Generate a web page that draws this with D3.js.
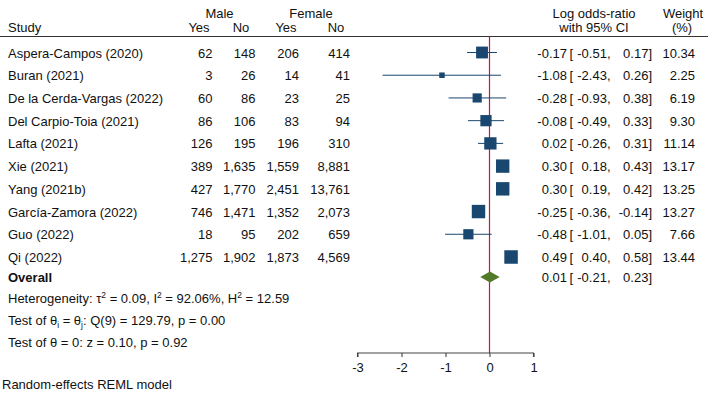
<!DOCTYPE html>
<html><head><meta charset="utf-8">
<script src="https://cdn.jsdelivr.net/npm/d3@7"></script>
<style>
html,body{margin:0;padding:0;background:#fff;}
svg{display:block;font-family:"Liberation Sans",Arial,sans-serif;}
</style></head>
<body>
<script>
const studies = ["Aspera-Campos (2020)","Buran (2021)","De la Cerda-Vargas (2022)","Del Carpio-Toia (2021)","Lafta (2021)","Xie (2021)","Yang (2021b)","García-Zamora (2022)","Guo (2022)","Qi (2022)"];
const maleYes = [62,3,60,86,126,389,427,746,18,1275];
const maleNo = [148,26,86,106,195,1635,1770,1471,95,1902];
const femaleYes = [206,14,23,83,196,1559,2451,1352,202,1873];
const femaleNo = [414,41,25,94,310,8881,13761,2073,659,4569];
const estimate = [-0.17,-1.08,-0.28,-0.08,0.02,0.30,0.30,-0.25,-0.48,0.49];
const lower = [-0.51,-2.43,-0.93,-0.49,-0.26,0.18,0.19,-0.36,-1.01,0.40];
const upper = [0.17,0.26,0.38,0.33,0.31,0.43,0.42,-0.14,0.05,0.58];
const weight = [10.34,2.25,6.19,9.30,11.14,13.17,13.25,13.27,7.66,13.44];
const overall = {est:0.01, lo:-0.21, hi:0.23};
const xTicks = [-3,-2,-1,0,1];

const W=708,H=394;
const svg=d3.select("body").append("svg").attr("width",W).attr("height",H);
const fs=13, txt="#111";
const loc=d3.formatLocale({decimal:".",thousands:",",grouping:[3],currency:["",""],minus:"-"});
const fmtN=loc.format(","), f2=loc.format(".2f"), fD=loc.format("d");
const x=d3.scaleLinear().domain([-3,1]).range([357.5,533.5]);
const y=d3.scaleLinear().domain([0,studies.length-1]).range([52.5,257]);
const yOverall=277;
const size=d3.scaleSqrt().domain([0,d3.max(weight)]).range([0,13.5]);
const navy="#1a476f";
const hdr1=13.5, hdr2=27, lineY=36.5, axisY=353;

function t(xp,yp,s,anchor,opts){
  const e=svg.append("text").attr("x",xp).attr("y",yp).attr("dy","0.35em")
    .attr("font-size",fs).attr("fill",txt).attr("text-anchor",anchor||"start").text(s);
  if(opts&&opts.bold) e.attr("font-weight","bold");
  return e;
}

// headers
t(219.5,hdr1,"Male","middle");
t(311,hdr1,"Female","middle");
t(8,hdr2,"Study");
t(199,hdr2,"Yes","middle");
t(241,hdr2,"No","middle");
t(286,hdr2,"Yes","middle");
t(336,hdr2,"No","middle");
t(594,hdr1,"Log odds-ratio","middle");
t(594,hdr2,"with 95% CI","middle");
t(683,hdr1,"Weight","middle");
t(682,hdr2,"(%)","middle");
svg.append("line").attr("x1",0).attr("x2",W).attr("y1",lineY).attr("y2",lineY).attr("stroke","#333").attr("stroke-width",1.2);

// null line
svg.append("line").attr("x1",x(0)).attr("x2",x(0)).attr("y1",lineY).attr("y2",axisY).attr("stroke","#c8163c").attr("stroke-width",1.2);

const rows=svg.append("g");
studies.forEach((s,i)=>{
  const yy=y(i);
  t(8,yy+0.5,s);
  t(212.5,yy+0.5,fmtN(maleYes[i]),"end");
  t(255.5,yy+0.5,fmtN(maleNo[i]),"end");
  t(299,yy+0.5,fmtN(femaleYes[i]),"end");
  t(350,yy+0.5,fmtN(femaleNo[i]),"end");
  t(567,yy+0.5,f2(estimate[i]),"end");
  t(569.5,yy+0.5,"[","start");
  t(610.5,yy+0.5,f2(lower[i])+",","end");
  t(652,yy+0.5,f2(upper[i])+"]","end");
  t(695,yy+0.5,f2(weight[i]),"end");
  rows.append("line").attr("x1",x(lower[i])).attr("x2",x(upper[i])).attr("y1",yy).attr("y2",yy).attr("stroke",navy).attr("stroke-width",1);
  const s2=size(weight[i]);
  rows.append("rect").attr("x",x(estimate[i])-s2/2).attr("y",yy-s2/2).attr("width",s2).attr("height",s2).attr("fill",navy);
});

// overall
t(8,yOverall,"Overall","start",{bold:true});
t(567,yOverall,f2(overall.est),"end");
t(569.5,yOverall,"[","start");
t(610.5,yOverall,f2(overall.lo)+",","end");
t(652,yOverall,f2(overall.hi)+"]","end");
const dh=5.6;
svg.append("path").attr("d",`M${x(overall.lo)},${yOverall}L${x(overall.est)},${yOverall-dh}L${x(overall.hi)},${yOverall}L${x(overall.est)},${yOverall+dh}Z`).attr("fill","#537a2b");

// stats
function rich(yp,parts){
  const e=svg.append("text").attr("x",8).attr("y",yp).attr("dy","0.35em").attr("font-size",fs).attr("fill",txt);
  parts.forEach(p=>{
    const ts=e.append("tspan").text(p[0]);
    if(p[1]==="sup"){ts.attr("font-size",8.5).attr("dy",-5);}
    else if(p[1]==="sub"){ts.attr("font-size",8.5).attr("dy",3);}
    else if(p[1]==="back"){ts.attr("dy",p[2]);}
  });
}
rich(298.5,[["Heterogeneity: τ"],["2","sup"],[" = 0.09, I","back",5],["2","sup"],[" = 92.06%, H","back",5],["2","sup"],[" = 12.59","back",5]]);
rich(320.5,[["Test of θ"],["i","sub"],[" = θ","back",-3],["j","sub"],[": Q(9) = 129.79, p = 0.00","back",-3]]);
t(8,342,"Test of θ = 0: z = 0.10, p = 0.92");
t(2,384,"Random-effects REML model");

// axis
const ax=svg.append("g").attr("transform",`translate(0,${axisY})`)
  .call(d3.axisBottom(x).tickValues(xTicks).tickSize(4).tickPadding(5.5).tickFormat(fD));
ax.selectAll("path,line").attr("stroke","#444").attr("stroke-width",1.1);
ax.select(".domain").attr("d",`M${x(-3)},4V0H${x(1)}V4`);
ax.selectAll("text").attr("font-size",fs).attr("fill",txt).attr("font-family","Liberation Sans, Arial, sans-serif");
</script>
</body></html>
